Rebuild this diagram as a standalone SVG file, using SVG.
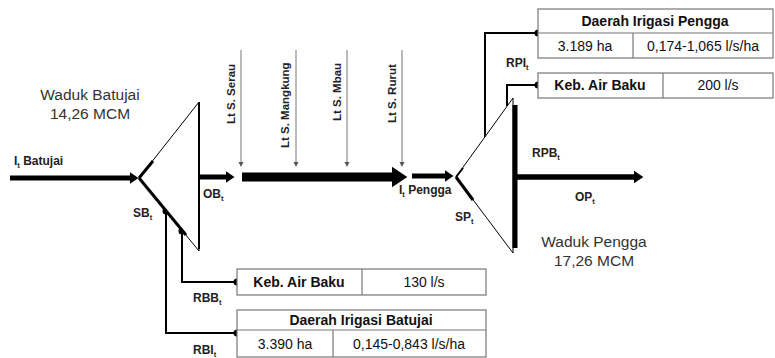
<svg xmlns="http://www.w3.org/2000/svg" width="775" height="358" viewBox="0 0 775 358">
<defs>
<marker id="ah" markerUnits="strokeWidth" markerWidth="2" markerHeight="3" refX="0" refY="1.15" orient="auto" overflow="visible">
<path d="M0,0 L1.7,1.15 L0,2.3 z" fill="#000"/>
</marker>
<marker id="th" markerUnits="userSpaceOnUse" markerWidth="6" markerHeight="6" refX="0" refY="2.5" orient="auto" overflow="visible">
<path d="M0,0 L5,2.5 L0,5 z" fill="#555"/>
</marker>
<style>
.lbl{font-family:"Liberation Sans",Arial,sans-serif;font-weight:bold;font-size:12px;fill:#222}
.rot{font-size:11.5px}
.sub{font-size:7.5px}
.big{font-family:"Liberation Sans",Arial,sans-serif;font-size:15.5px;fill:#333;text-anchor:middle}
.bx{fill:#fff;stroke:#777;stroke-width:1.2}
.bt{font-family:"Liberation Sans",Arial,sans-serif;font-size:14px;fill:#111;text-anchor:middle}
.bb{font-weight:bold}
.flow{fill:none;stroke:#000;marker-end:url(#ah)}
.thin{fill:none;stroke:#777;stroke-width:1;marker-end:url(#th)}
.con{fill:none;stroke:#000;stroke-width:2}
.dot{fill:#000}
</style>
</defs>

<g id="connectors">
<path class="flow" d="M10,178 H130" stroke-width="5"/>
<path class="flow" d="M199,177 H226" stroke-width="5"/>
<path class="flow" d="M242,177 H392" stroke-width="9"/>
<path class="flow" d="M412,176 H445" stroke-width="5"/>
<path class="flow" d="M515,177 H634" stroke-width="5.5"/>
<path class="thin" d="M241,50 V162"/>
<path class="thin" d="M296,50 V162"/>
<path class="thin" d="M347,50 V162"/>
<path class="thin" d="M402,50 V162"/>
<path class="con" d="M166,211 V333 H237"/>
<path class="con" d="M182,231 V282 H237"/>
<path class="con" d="M485,137 V33 H538"/>
<path class="con" d="M507,106 V85 H538"/>
<circle class="dot" cx="166" cy="211" r="3.5"/>
<circle class="dot" cx="237" cy="333" r="3.5"/>
<circle class="dot" cx="182" cy="231" r="3.5"/>
<circle class="dot" cx="237" cy="282" r="3.5"/>
<circle class="dot" cx="538" cy="33" r="3.5"/>
<circle class="dot" cx="538" cy="85" r="3.5"/>
</g>

<g id="waduk-batujai">
<polygon points="139,178 199,102 199,251" fill="#fff" stroke="#000" stroke-width="1"/>
<line x1="139" y1="178" x2="186" y2="235" stroke="#000" stroke-width="3"/>
<line x1="139" y1="178" x2="153" y2="161" stroke="#000" stroke-width="3"/>
<line x1="199" y1="102" x2="199" y2="249" stroke="#000" stroke-width="2"/>
<text class="big" x="90" y="100">Waduk Batujai</text>
<text class="big" x="90" y="119">14,26 MCM</text>
</g>

<g id="waduk-pengga">
<polygon points="456,177 513,98 513,253" fill="#fff" stroke="#000" stroke-width="1"/>
<line x1="456" y1="177" x2="473" y2="200" stroke="#000" stroke-width="3"/>
<line x1="456" y1="177" x2="463" y2="168" stroke="#000" stroke-width="2"/>
<line x1="515" y1="105" x2="515" y2="248" stroke="#000" stroke-width="5"/>
<text class="big" x="594" y="247">Waduk Pengga</text>
<text class="big" x="594" y="266">17,26 MCM</text>
</g>

<g id="labels">
<text class="lbl" x="14" y="165">I<tspan class="sub" dy="3">t</tspan><tspan dy="-3"> Batujai</tspan></text>
<text class="lbl" x="203" y="198">OB<tspan class="sub" dy="3">t</tspan></text>
<text class="lbl" x="133" y="217">SB<tspan class="sub" dy="3">t</tspan></text>
<text class="lbl" x="193" y="302">RBB<tspan class="sub" dy="3">t</tspan></text>
<text class="lbl" x="193" y="354">RBI<tspan class="sub" dy="3">t</tspan></text>
<text class="lbl" x="399" y="194">I<tspan class="sub" dy="3">t</tspan><tspan dy="-3"> Pengga</tspan></text>
<text class="lbl" x="455" y="221">SP<tspan class="sub" dy="3">t</tspan></text>
<text class="lbl" x="532" y="157">RPB<tspan class="sub" dy="3">t</tspan></text>
<text class="lbl" x="575" y="201">OP<tspan class="sub" dy="3">t</tspan></text>
<text class="lbl" x="506" y="67">RPI<tspan class="sub" dy="3">t</tspan></text>
<text class="lbl rot" transform="translate(235,124) rotate(-90)">Lt S. Serau</text>
<text class="lbl rot" transform="translate(289,148) rotate(-90)">Lt S. Mangkung</text>
<text class="lbl rot" transform="translate(341,121) rotate(-90)">Lt S. Mbau</text>
<text class="lbl rot" transform="translate(396,123) rotate(-90)">Lt S. Rurut</text>
</g>

<g id="box-irigasi-pengga">
<rect class="bx" x="538" y="9" width="235" height="49"/>
<line x1="538" y1="33" x2="773" y2="33" stroke="#777" stroke-width="1.2"/>
<line x1="633" y1="33" x2="633" y2="58" stroke="#777" stroke-width="1.2"/>
<text class="bt bb" x="655" y="26">Daerah Irigasi Pengga</text>
<text class="bt" x="585" y="51">3.189 ha</text>
<text class="bt" x="703" y="51">0,174-1,065 l/s/ha</text>
</g>

<g id="box-airbaku-pengga">
<rect class="bx" x="538" y="73" width="235" height="25"/>
<line x1="663" y1="73" x2="663" y2="98" stroke="#777" stroke-width="1.2"/>
<text class="bt bb" x="600" y="90">Keb. Air Baku</text>
<text class="bt" x="718" y="90">200 l/s</text>
</g>

<g id="box-airbaku-batujai">
<rect class="bx" x="237" y="269" width="249" height="26"/>
<line x1="362" y1="269" x2="362" y2="295" stroke="#777" stroke-width="1.2"/>
<text class="bt bb" x="299" y="287">Keb. Air Baku</text>
<text class="bt" x="424" y="287">130 l/s</text>
</g>

<g id="box-irigasi-batujai">
<rect class="bx" x="237" y="310" width="249" height="47"/>
<line x1="237" y1="330" x2="486" y2="330" stroke="#777" stroke-width="1.2"/>
<line x1="333" y1="330" x2="333" y2="357" stroke="#777" stroke-width="1.2"/>
<text class="bt bb" x="361" y="325">Daerah Irigasi Batujai</text>
<text class="bt" x="285" y="349">3.390 ha</text>
<text class="bt" x="409" y="349">0,145-0,843 l/s/ha</text>
</g>
</svg>
